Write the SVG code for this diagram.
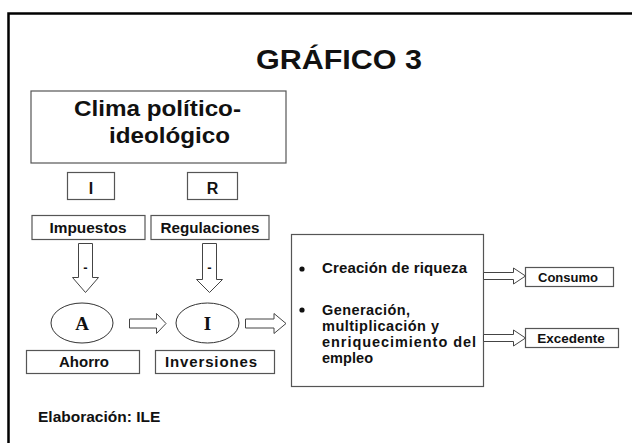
<svg xmlns="http://www.w3.org/2000/svg" width="632" height="443" viewBox="0 0 632 443">
<style>
.t{font-family:"Liberation Sans",Arial,sans-serif;font-weight:bold;fill:#111}
.box{fill:#fff;stroke:#555;stroke-width:1.2}
.arr{fill:#fff;stroke:#444;stroke-width:1}
.serif{font-family:"Liberation Serif","Times New Roman",serif;font-weight:bold;fill:#111}
</style>
<rect width="632" height="443" fill="#fff"/>
<g id="frame">
<path d="M8.5 443 V13.5 H632" fill="none" stroke="#000" stroke-width="2.5"/>
</g>
<g id="title"><text class="t" x="256" y="69" font-size="27" textLength="166" lengthAdjust="spacingAndGlyphs">GRÁFICO 3</text></g>
<g id="clima">
<rect class="box" x="31" y="91" width="255" height="72"/>
<text class="t" x="74" y="116" font-size="22" textLength="167" lengthAdjust="spacingAndGlyphs">Clima político-</text>
<text class="t" x="109" y="143" font-size="22" textLength="121" lengthAdjust="spacingAndGlyphs">ideológico</text>
</g>
<g id="nodeI"><rect class="box" x="67.5" y="172.5" width="47" height="27"/><text class="t" x="91" y="194" font-size="16" text-anchor="middle">I</text></g>
<g id="nodeR"><rect class="box" x="187.5" y="172.5" width="50" height="27"/><text class="t" x="212.5" y="194" font-size="16" text-anchor="middle">R</text></g>
<g id="impuestos"><rect class="box" x="32" y="215.5" width="113" height="24"/><text class="t" x="88" y="233" font-size="15" text-anchor="middle" textLength="77" lengthAdjust="spacingAndGlyphs">Impuestos</text></g>
<g id="regulaciones"><rect class="box" x="151" y="215.5" width="118" height="24"/><text class="t" x="210" y="233" font-size="15" text-anchor="middle" textLength="99" lengthAdjust="spacingAndGlyphs">Regulaciones</text></g>
<g id="ahorro"><rect class="box" x="26.5" y="350.5" width="113" height="23"/><text class="t" x="84" y="367" font-size="15" text-anchor="middle">Ahorro</text></g>
<g id="inversiones"><rect class="box" x="155.5" y="350.5" width="119" height="23"/><text class="t" x="211" y="367" font-size="15" text-anchor="middle" textLength="92" lengthAdjust="spacing">Inversiones</text></g>
<g id="ellipseA"><ellipse cx="82" cy="323" rx="31" ry="20" fill="#fff" stroke="#333" stroke-width="1"/><text class="serif" x="82" y="329.5" font-size="19" text-anchor="middle">A</text></g>
<g id="ellipseI"><ellipse cx="207.5" cy="323" rx="31.5" ry="20" fill="#fff" stroke="#333" stroke-width="1"/><text class="serif" x="207.5" y="329.5" font-size="19" text-anchor="middle">I</text></g>
<g id="bigbox">
<rect class="box" x="291.5" y="234.5" width="192" height="152"/>
<circle cx="302" cy="269" r="2.6" fill="#111"/>
<text class="t" x="322" y="273" font-size="15" textLength="145" lengthAdjust="spacing">Creación de riqueza</text>
<circle cx="302" cy="310" r="2.6" fill="#111"/>
<text class="t" x="322" y="315" font-size="14.5" textLength="88" lengthAdjust="spacing">Generación,</text>
<text class="t" x="322" y="331" font-size="14.5" textLength="117" lengthAdjust="spacing">multiplicación y</text>
<text class="t" x="322" y="347" font-size="14.5" textLength="154" lengthAdjust="spacing">enriquecimiento del</text>
<text class="t" x="322" y="363" font-size="14.5" textLength="51" lengthAdjust="spacing">empleo</text>
</g>
<g id="consumo"><rect class="box" x="525.5" y="267.5" width="88" height="19"/><text class="t" x="568" y="282" font-size="13" text-anchor="middle">Consumo</text></g>
<g id="excedente"><rect class="box" x="525.5" y="328.5" width="93" height="19"/><text class="t" x="571" y="343" font-size="13.5" text-anchor="middle">Excedente</text></g>
<g id="connectors">
<path class="arr" d="M78.5 243.5 H92.5 V277.5 H98.5 L85.5 292.5 L72.5 277.5 H78.5 Z"/>
<text class="t" x="85.5" y="272" font-size="13" text-anchor="middle" font-weight="normal">-</text>
<path class="arr" d="M202.5 243.5 H216.5 V279.5 H222.5 L209.5 292.5 L196.5 279.5 H202.5 Z"/>
<text class="t" x="209.5" y="272" font-size="13" text-anchor="middle" font-weight="normal">-</text>
<path class="arr" d="M129.5 319 H156.5 V313.5 L166 323.5 L156.5 333.5 V328 H129.5 Z"/>
<path class="arr" d="M245.5 319 H274 V313.5 L286 323.5 L274 333.5 V328 H245.5 Z"/>
<path class="arr" d="M483.5 272.5 H513.5 V268 L525.5 276 L513.5 284 V279.5 H483.5 Z"/>
<path class="arr" d="M483.5 334.5 H513.5 V330 L525.5 338 L513.5 346 V341.5 H483.5 Z"/>
</g>
<g id="credit"><text class="t" x="38" y="422" font-size="15.5">Elaboración: ILE</text></g>
</svg>
